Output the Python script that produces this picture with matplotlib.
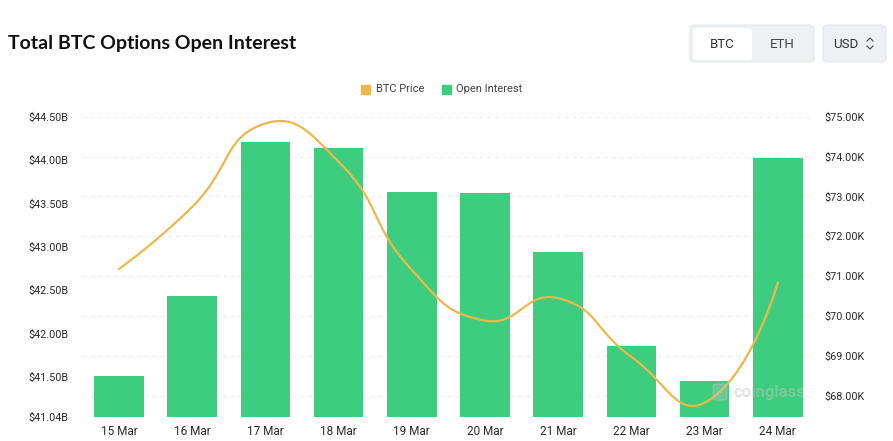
import numpy as np
import matplotlib.pyplot as plt
from matplotlib.patches import FancyBboxPatch
from matplotlib.lines import Line2D

# data
dates = ['15 Mar', '16 Mar', '17 Mar', '18 Mar', '19 Mar', '20 Mar', '21 Mar', '22 Mar', '23 Mar', '24 Mar']
open_interest = [41.51, 42.43, 44.21, 44.14, 43.63, 43.62, 42.94, 41.86, 41.45, 44.02]  # $B
btc_price = [71.18, 72.74, 74.83, 73.87, 71.16, 69.89, 70.45, 68.98, 67.83, 70.84]     # $K

oi_ticks = [41.04, 41.50, 42.00, 42.50, 43.00, 43.50, 44.00, 44.50]
price_ticks = [68, 69, 70, 71, 72, 73, 74, 75]

GREEN = '#3ecc7e'
ORANGE = '#eab84c'
TXT = '#2b2b2b'

W, H = 893, 441


def smooth_line(x, y, sx, sy, smooth=0.5, n=30):
    # bezier smoothing like echarts, computed in pixel-ish units
    px = np.asarray(x, float) * sx
    py = np.asarray(y, float) * sy
    pts = np.column_stack([px, py])
    m = len(pts)
    cps = []
    for i in range(m):
        if i == 0 or i == m - 1:
            cps.append((pts[i], pts[i]))
            continue
        v = pts[i + 1] - pts[i - 1]
        d0 = np.hypot(*(pts[i] - pts[i - 1]))
        d1 = np.hypot(*(pts[i + 1] - pts[i]))
        c0 = pts[i] - v * smooth * d0 / (d0 + d1)
        c1 = pts[i] + v * smooth * d1 / (d0 + d1)
        cps.append((c0, c1))
    out = [pts[0]]
    t = np.linspace(0, 1, n)[1:, None]
    for i in range(m - 1):
        p0, p3 = pts[i], pts[i + 1]
        p1, p2 = cps[i][1], cps[i + 1][0]
        seg = (1 - t) ** 3 * p0 + 3 * (1 - t) ** 2 * t * p1 + 3 * (1 - t) * t ** 2 * p2 + t ** 3 * p3
        out.extend(seg)
    out = np.array(out)
    return out[:, 0] / sx, out[:, 1] / sy


fig = plt.figure(figsize=(W / 100, H / 100), dpi=100)
ax = fig.add_axes([82.4 / W, 1 - 416.7 / H, 732 / W, 300 / H])
ax2 = ax.twinx()

x = np.arange(len(dates))
ax.bar(x, open_interest, width=0.68, color=GREEN, zorder=2)
ax.set_xlim(-0.5, len(dates) - 0.5)
ax.set_ylim(41.04, 44.50)
ax2.set_ylim(67.48, 75.0)

# dashed grid follows the right axis ticks, drawn behind the bars
ax.hlines(price_ticks, -0.5, len(dates) - 0.5, transform=ax2.transData,
          colors='#ededed', linestyles=(0, (4, 3)), linewidth=0.8, zorder=0)
ax.axhline(41.04, color='#e8e8e8', linewidth=0.8, zorder=1)

lx, ly = smooth_line(x, btc_price, 73.2, 39.9)
ax2.plot(lx, ly, color=ORANGE, linewidth=1.6, zorder=3)

for a in (ax, ax2):
    for s in a.spines.values():
        s.set_visible(False)
    a.tick_params(length=0, colors=TXT, labelsize=7.8)

ax.set_yticks(oi_ticks)
ax.set_yticklabels(['$%.2fB' % v for v in oi_ticks], fontfamily='Roboto')
ax.tick_params(axis='y', pad=10)
ax2.set_yticks(price_ticks)
ax2.set_yticklabels(['$%.2fK' % v for v in price_ticks], fontfamily='Roboto')
ax2.tick_params(axis='y', pad=7)
ax.set_xticks(x)
ax.set_xticklabels(dates, fontfamily='Roboto', fontsize=8.5)
ax.tick_params(axis='x', pad=6)

# title
fig.text(8 / W, 1 - 44 / H, 'Total BTC Options Open Interest', fontsize=14,
         fontweight='bold', fontfamily='Lato', color='#111111', va='center')

# legend
fig.patches.append(FancyBboxPatch((361 / W, 1 - 94 / H), 9 / W, 9 / H, boxstyle='square,pad=0',
                                  transform=fig.transFigure, color=ORANGE))
fig.text(376 / W, 1 - 89 / H, 'BTC Price', fontsize=8, color='#444444', va='center', fontfamily='Roboto')
fig.patches.append(FancyBboxPatch((442 / W, 1 - 94 / H), 9 / W, 9 / H, boxstyle='square,pad=0',
                                  transform=fig.transFigure, color=GREEN))
fig.text(456 / W, 1 - 89 / H, 'Open Interest', fontsize=8, color='#444444', va='center', fontfamily='Roboto')

# BTC / ETH toggle and USD selector
def box(x0, y0, x1, y1, fc, ec='none', r=6):
    fig.patches.append(FancyBboxPatch((x0 / W, 1 - y1 / H), (x1 - x0) / W, (y1 - y0) / H,
                                      boxstyle='round,pad=0,rounding_size=%f' % (r / W),
                                      transform=fig.transFigure, fc=fc, ec=ec, lw=0.8))

box(690, 25, 814, 62, '#eef0f4', '#e3e6ea')
box(693, 28, 752, 60, 'white')
box(823, 25, 886, 62, '#eef0f4', '#e3e6ea')
fig.text(722 / W, 1 - 44 / H, 'BTC', fontsize=9.5, color='#333333', ha='center', va='center', fontfamily='Roboto')
fig.text(782 / W, 1 - 44 / H, 'ETH', fontsize=9.5, color='#444444', ha='center', va='center', fontfamily='Roboto')
fig.text(846 / W, 1 - 44 / H, 'USD', fontsize=9.5, color='#333333', ha='center', va='center', fontfamily='Roboto')
for ys in ((41, 38, 41), (46, 49, 46)):
    fig.lines.append(Line2D([867 / W, 870 / W, 873 / W], [1 - ys[0] / H, 1 - ys[1] / H, 1 - ys[2] / H],
                            transform=fig.transFigure, color='#555555', lw=0.9))

# watermark
fig.text(733 / W, 1 - 392 / H, 'coinglass', fontsize=12, fontweight='bold', color='#c4c4c4',
         alpha=0.45, va='center', fontfamily='Roboto')
fig.patches.append(FancyBboxPatch((713 / W, 1 - 400 / H), 14 / W, 16 / H, boxstyle='round,pad=0,rounding_size=0.004',
                                  transform=fig.transFigure, color='#c4c4c4', alpha=0.35))

fig.savefig('out.png', dpi=100)
